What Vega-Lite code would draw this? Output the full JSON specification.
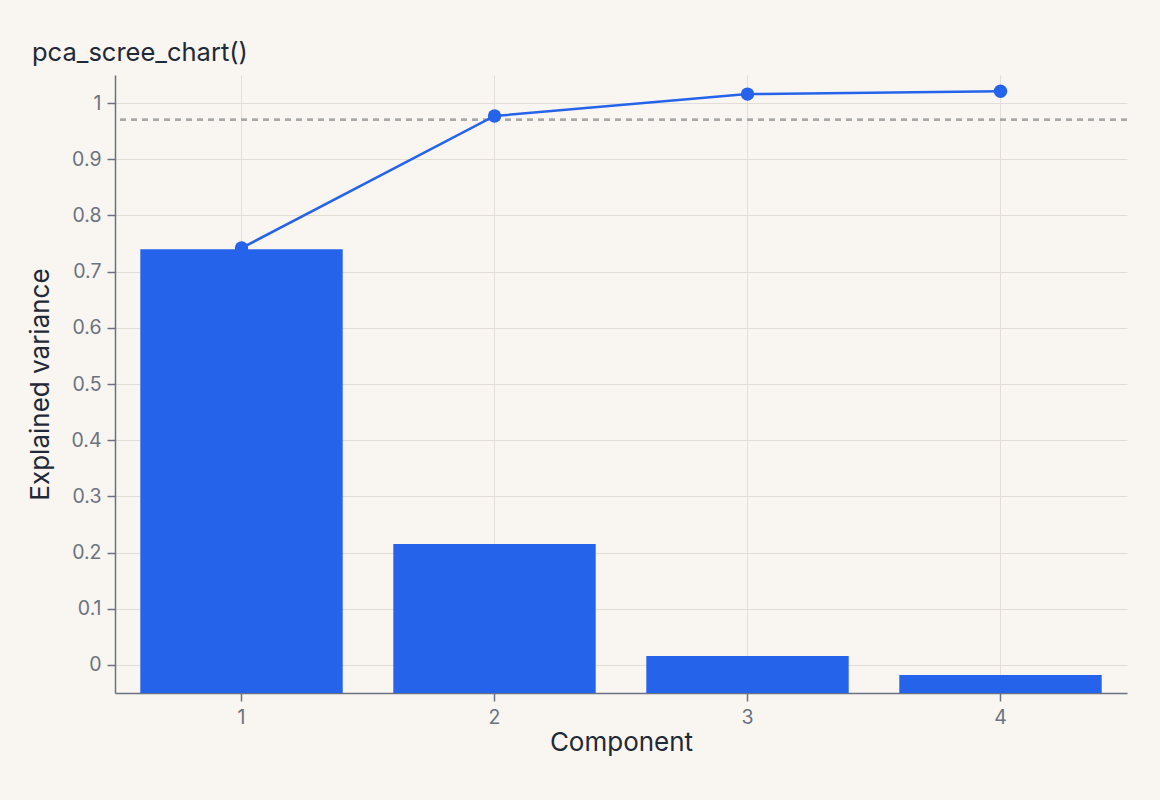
{
  "$schema": "https://vega.github.io/schema/vega-lite/v6.json",
  "autosize": "none",
  "width": 1012,
  "height": 618,
  "padding": {"left": 115, "top": 75, "right": 33, "bottom": 107},
  "background": "#f9f6f1",
  "title": {
    "text": "pca_scree_chart()",
    "anchor": "start",
    "frame": "group",
    "dx": -83,
    "offset": 9,
    "font": "Inter",
    "fontSize": 25.5,
    "fontWeight": "normal",
    "color": "#1f2937"
  },
  "config": {
    "font": "Inter",
    "view": {"stroke": null},
    "axis": {
      "labelFont": "Inter",
      "labelFontSize": 19.5,
      "labelColor": "#6b7280",
      "titleFont": "Inter",
      "titleFontSize": 26,
      "titleFontWeight": "normal",
      "titleColor": "#1f2937",
      "domainColor": "#6b7280",
      "domainWidth": 1.5,
      "tickColor": "#6b7280",
      "tickWidth": 1.5,
      "tickSize": 8,
      "gridColor": "#e2ddd6",
      "gridWidth": 1
    }
  },
  "datasets": {
    "scree": [
      {"component": 1, "explained": 0.74, "cumulative": 0.742},
      {"component": 2, "explained": 0.215, "cumulative": 0.977},
      {"component": 3, "explained": 0.016, "cumulative": 1.016},
      {"component": 4, "explained": -0.018, "cumulative": 1.021}
    ]
  },
  "data": {"name": "scree"},
  "layer": [
    {
      "mark": {"type": "bar", "color": "#2563eb"},
      "encoding": {
        "x": {
          "field": "component", "type": "ordinal", "title": "Component",
          "scale": {"paddingInner": 0.2, "paddingOuter": 0.1},
          "axis": {"labelAngle": 0, "grid": true, "bandPosition": 0.5, "labelPadding": 7, "titlePadding": 3}
        },
        "y": {
          "field": "explained", "type": "quantitative", "title": "Explained variance",
          "scale": {"domain": [-0.05, 1.05], "nice": false, "zero": false},
          "axis": {"values": [0, 0.1, 0.2, 0.3, 0.4, 0.5, 0.6, 0.7, 0.8, 0.9, 1], "format": "~g", "labelPadding": 6, "titlePadding": 17}
        },
        "y2": {"datum": -0.05}
      }
    },
    {
      "mark": {"type": "rule", "color": "#a8a8a8", "strokeWidth": 2.2, "strokeDash": [6, 5]},
      "encoding": {"y": {"datum": 0.97}}
    },
    {
      "mark": {"type": "line", "color": "#2563eb", "strokeWidth": 2.5},
      "encoding": {
        "x": {"field": "component", "type": "ordinal"},
        "y": {"field": "cumulative", "type": "quantitative"}
      }
    },
    {
      "mark": {"type": "point", "filled": true, "color": "#2563eb", "size": 180, "opacity": 1},
      "encoding": {
        "x": {"field": "component", "type": "ordinal"},
        "y": {"field": "cumulative", "type": "quantitative"}
      }
    }
  ]
}
